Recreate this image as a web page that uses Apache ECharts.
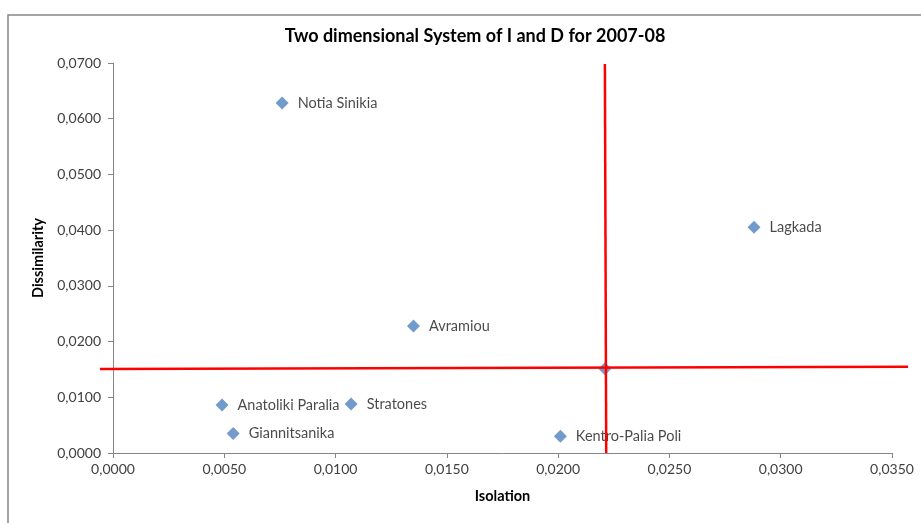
<!DOCTYPE html>
<html>
<head>
<meta charset="utf-8">
<script src="https://cdn.jsdelivr.net/npm/echarts@6/dist/echarts.min.js"></script>
<style>
html,body{margin:0;padding:0;background:#fff;}
#chart{width:921px;height:523px;}
</style>
</head>
<body>
<div id="chart"></div>
<script>
// Data
const names = ['Notia Sinikia', 'Lagkada', 'Avramiou', '', 'Anatoliki Paralia', 'Stratones', 'Giannitsanika', 'Kentro-Palia Poli'];
const isolation = [0.0076, 0.0288, 0.0135, 0.0221, 0.0049, 0.0107, 0.0054, 0.0201];
const dissimilarity = [0.0628, 0.0405, 0.0228, 0.0151, 0.0086, 0.0088, 0.0035, 0.0030];
// Red reference lines (hand-drawn in original)
const vLineX = [0.02210, 0.02216];
const vLineY = [0.0698, 0.0000];
const hLineX = [-0.000584, 0.035719];
const hLineY = [0.01508, 0.01549];

const fmt = v => v.toFixed(4).replace('.', ',');
const FONT = 'Lato, "Open Sans", sans-serif';

const chart = echarts.init(document.getElementById('chart'), null, {renderer: 'canvas'});
chart.setOption({
  backgroundColor: '#ffffff',
  animation: false,
  title: {
    text: 'Two dimensional System of I and D for 2007-08',
    left: 470, top: 22, textAlign: 'center',
    textStyle: {fontFamily: FONT, fontSize: 18, fontWeight: 'bold', color: '#000'}
  },
  graphic: [{
    type: 'rect', shape: {x: 8, y: 15, width: 1000, height: 1000},
    style: {fill: 'none', stroke: '#868686', lineWidth: 1.5}, silent: true, z: -1
  }],
  grid: [
    {left: 113, right: 29, top: 63, bottom: 70, containLabel: false},
    {left: 100, right: 13, top: 63, bottom: 70, containLabel: false}
  ],
  xAxis: [{
    type: 'value', gridIndex: 0, min: 0, max: 0.035, interval: 0.005,
    name: 'Isolation', nameLocation: 'middle', nameGap: 36,
    nameTextStyle: {fontFamily: FONT, fontSize: 14.5, fontWeight: 'bold', color: '#000'},
    axisLine: {show: true, onZero: false, lineStyle: {color: '#868686', width: 1}},
    axisTick: {show: true, inside: false, length: 5, lineStyle: {color: '#868686'}},
    splitLine: {show: false},
    axisLabel: {formatter: fmt, fontFamily: FONT, fontSize: 14, color: '#404040', margin: 9}
  }, {
    type: 'value', gridIndex: 1, min: hLineX[0], max: hLineX[1], show: false,
    splitLine: {show: false}
  }],
  yAxis: [{
    type: 'value', gridIndex: 0, min: 0, max: 0.07, interval: 0.01,
    name: 'Dissimilarity', nameLocation: 'middle', nameGap: 64, nameRotate: 90,
    nameTextStyle: {fontFamily: FONT, fontSize: 14.5, fontWeight: 'bold', color: '#000'},
    axisLine: {show: true, onZero: false, lineStyle: {color: '#868686', width: 1}},
    axisTick: {show: true, inside: false, length: 5, lineStyle: {color: '#868686'}},
    splitLine: {show: false},
    axisLabel: {formatter: fmt, fontFamily: FONT, fontSize: 14, color: '#404040', margin: 12}
  }, {
    type: 'value', gridIndex: 1, min: 0, max: 0.07, show: false,
    splitLine: {show: false}
  }],
  series: [
    {
      type: 'scatter', xAxisIndex: 0, yAxisIndex: 0,
      symbol: 'diamond', symbolSize: 13,
      itemStyle: {color: '#4F81BD'},
      data: isolation.map((x, i) => ({value: [x, dissimilarity[i]], name: names[i]})),
      label: {
        show: true, position: 'right', distance: 9,
        formatter: p => p.name,
        fontFamily: FONT, fontSize: 14.5, color: '#1a1a1a'
      },
      z: 2
    },
    {
      type: 'line', xAxisIndex: 0, yAxisIndex: 0, clip: false, symbol: 'none',
      lineStyle: {color: '#FF0000', width: 2.5},
      data: vLineX.map((x, i) => [x, vLineY[i]]),
      z: 3
    },
    {
      type: 'line', xAxisIndex: 1, yAxisIndex: 1, clip: false, symbol: 'none',
      lineStyle: {color: '#FF0000', width: 2.5},
      data: hLineX.map((x, i) => [x, hLineY[i]]),
      z: 3
    }
  ]
});
</script>
</body>
</html>
